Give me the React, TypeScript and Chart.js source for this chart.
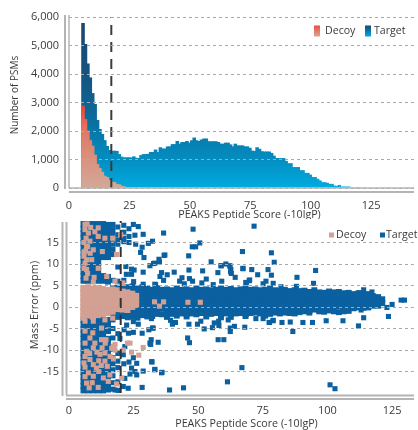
import React, { useEffect, useRef } from "react";
import { Chart, registerables } from "chart.js";

Chart.register(...registerables);

const firstBinScore = 5.8;
const targetHistogram = [
  5790, 5050, 4370, 3880, 3330, 2950, 2385, 2070, 1895, 1680, 1475, 1335, 1300, 1310, 1300, 1190, 1100, 1075, 1075, 1080,
  1070, 1110, 1060, 1050, 1155, 1190, 1190, 1200, 1265, 1265, 1350, 1265, 1430, 1385, 1385, 1460, 1460, 1540, 1540, 1650,
  1555, 1615, 1615, 1650, 1590, 1675, 1770, 1675, 1650, 1700, 1735, 1735, 1640, 1640, 1640, 1640, 1615, 1555, 1555, 1590,
  1590, 1530, 1460, 1555, 1495, 1495, 1495, 1460, 1460, 1410, 1310, 1300, 1430, 1375, 1290, 1280, 1280, 1280, 1230, 1135,
  1050, 1050, 1050, 1050, 950, 870, 870, 735, 735, 735, 625, 625, 530, 530, 470, 385, 385, 325, 265, 205,
  205, 180, 145, 145, 85, 70, 108, 50, 50, 50, 50, 15, 15, 10, 8,
];
const decoyHistogram = [2890, 2420, 2010, 1680, 1485, 1170, 840, 700, 570, 430, 385, 280, 220, 210, 140, 130, 80, 60, 30, 15, 10];
const histogramThreshold = 17.5;
const scatterThreshold = 20;

const histogramYTicks = [0, 1000, 2000, 3000, 4000, 5000, 6000];
const scatterYTicks = [-15, -10, -5, 0, 5, 10, 15];
const scoreTicks = [0, 25, 50, 75, 100, 125];

const targetLeftColumns = [
  [5.6, 19.3, 18.2, 17.1, 16, 14.9, 13.8, 12.7, 11.6, 10.5, 9.4, 8.3, 7.2, 6.1, -3, -4.1, -5.2, -6.3, -7.4, -8.5, -9.6, -10.7, -11.8, -12.9, -14, -15.1, -16.2, -17.3, -18.4, -19.4],
  [7.5, 19.3, 18.2, 17.1, 16, 14.9, 13.8, 12.7, 11.6, 10.5, 9.4, 8.3, 7.2, 6.1, -3, -4.1, -5.2, -6.3, -7.4, -8.5, -9.6, -10.7, -11.8, -12.9, -14, -15.1, -16.2, -17.3, -18.4, -19.4],
  [9.4, 19.3, 18.2, 17.1, 16, 14.9, 13.8, 12.7, 11.6, 10.5, 9.4, 8.3, 7.2, 6.1, -3, -4.1, -5.2, -6.3, -7.4, -8.5, -9.6, -10.7, -11.8, -12.9, -14, -15.1, -16.2, -17.3, -18.4, -19.4],
  [11.3, 19.3, 18.2, 17.1, 16, 14.9, 13.8, 12.7, 11.6, 10.5, 9.4, 8.3, 7.2, 6.1, -3, -4.1, -5.2, -6.3, -7.4, -8.5, -9.6, -10.7, -11.8, -12.9, -14, -15.1, -16.2, -17.3, -18.4, -19.4],
  [13.2, 19.3, 18.2, 17.1, 16, 14.9, 13.8, 12.7, 11.6, 7.2, 6.1, -3, -4.1, -5.2, -6.3, -7.4, -8.5, -9.6, -10.7, -11.8, -12.9, -14, -15.1, -16.2, -17.3, -18.4, -19.4],
  [15.1, 19.1, 18, 17.1, 16, 14.9, 13.8, 12.7, 11.6, 7, 5.9, -3, -4.1, -5.6, -7.4, -8.5, -9.6, -10.7, -11.8, -12.9, -14, -15.1, -16.2, -17.3, -18.4, -19.2],
];

const targetSparseColumns = [
  [17, 19.2, 18, 16.9, 15.8, 14.6, 13.4, 12.2, 6.2, -3, -5, -7.2, -9.8, -11.8, -13.2, -14.6, -16, -17.6, -19.1],
  [18.9, 18.6, 16.8, 15.6, 14.6, 9.3, 6, -6.2, -10.8, -12.6, -14.1, -17.4],
  [21.2, 19, 17.4, 16, 15.2, 6.2, -13.2],
  [23.2, 18.2, 16.4, 15, -12.8],
];

const targetBandColumns = [
  [17, 4.4, 3.2, 2.1, 1, -0.1, -1.2, -2.2],
  [18.9, 4.5, 3.3, 2.2, 1.1, 0, -1.1, -2.3],
  [20.8, 4.3, 3.2, 2.1, 1, -0.1, -1.2, -2.1],
  [22.7, 4.6, 3.4, 2.2, 1, -0.2, -1.3, -2.4],
  [24.6, 4.8, 3.5, 2.3, 1.1, 0, -1.2, -2.2],
  [26.5, 4.3, 3.1, 2, 0.9, -0.2, -1.3, -2.5],
  [28.4, 4.6, 3.4, 2.2, 1, -0.1, -1.2, -1.9],
  [30.3, 4.2, 3.1, 2, 0.9, -0.2, -1.3, -2.2],
  [32.2, 4, 2.9, 1.8, 0.7, -0.4, -1.5, -2.1],
  [34.1, 4.4, 3.2, 2, 0.8, -0.4, -1.6],
  [36, 4, 2.9, 1.8, 0.7, -0.4, -1.7],
  [37.9, 4.1, 3, 1.9, 0.8, -0.3, -1.5, -2.3],
  [39.8, 3.9, 2.8, 1.7, 0.6, -0.5, -1.6],
  [41.7, 4.3, 3.1, 2, 0.9, -0.2, -1.4, -2],
  [43.6, 4, 2.9, 1.8, 0.7, -0.4, -1.5],
  [45.5, 4.1, 3, 1.9, 0.8, -0.3, -1.6, -2.2],
  [47.4, 3.9, 2.8, 1.7, 0.6, -0.5, -1.5],
  [49.3, 4.3, 3.1, 1.9, 0.7, -0.5, -1.7],
  [51.2, 4, 2.9, 1.8, 0.7, -0.4, -1.4],
  [53.1, 4.1, 3, 1.9, 0.8, -0.3, -1.5, -2.2],
  [55, 3.9, 2.8, 1.7, 0.6, -0.5, -1.6],
  [56.9, 4, 2.9, 1.8, 0.7, -0.4, -1.4],
  [58.8, 4.3, 3.1, 1.9, 0.7, -0.5, -1.7, -2.4],
  [60.7, 4, 2.9, 1.8, 0.7, -0.4, -1.5],
  [62.6, 4.2, 3, 1.8, 0.6, -0.6, -1.7, -2.3],
  [64.5, 3.9, 2.8, 1.7, 0.6, -0.5, -1.5],
  [66.4, 4.1, 3, 1.9, 0.8, -0.3, -1.4],
  [68.3, 4.3, 3.1, 1.9, 0.7, -0.5, -1.6, -2.1],
  [70.2, 4, 2.9, 1.8, 0.7, -0.4, -1.4],
  [72.1, 4.1, 3, 1.9, 0.8, -0.3, -1.3],
  [74, 3.9, 2.8, 1.7, 0.6, -0.5, -1.5],
  [75.9, 4, 2.9, 1.8, 0.7, -0.4, -1.4, -2],
  [77.8, 4.2, 3, 1.8, 0.6, -0.6, -1.6],
  [79.7, 3.9, 2.8, 1.7, 0.6, -0.5, -1.3],
  [81.6, 3.8, 2.7, 1.6, 0.5, -0.6, -1.5],
  [83.5, 4, 2.9, 1.8, 0.7, -0.4, -1.3],
  [85.4, 3.7, 2.6, 1.5, 0.4, -0.7, -1.4],
  [87.3, 3.9, 2.8, 1.7, 0.6, -0.5, -1.5],
  [89.2, 3.7, 2.6, 1.5, 0.4, -0.7, -1.2],
  [91.1, 3.8, 2.7, 1.6, 0.5, -0.6, -1],
  [93, 3.5, 2.4, 1.3, 0.2, -0.9, -1.3],
  [94.9, 3.9, 2.7, 1.6, 0.5, -0.6],
  [96.8, 3.4, 2.3, 1.2, 0.1, -1],
  [98.7, 3.3, 2.2, 1.1, 0, -1.1],
  [100.6, 3.6, 2.5, 1.4, 0.3, -0.8],
  [102.5, 3.4, 2.3, 1.2, 0.1, -1],
  [104.4, 3.5, 2.4, 1.3, 0.2, -1.2],
  [106.3, 3.2, 2.1, 1, -0.1, -1],
  [108.2, 3.3, 2.2, 1.1, 0, -0.9],
  [110.1, 3, 1.9, 0.8, -0.3],
  [112, 3.2, 2.1, 1, -0.1],
  [113.9, 2.9, 1.8, 0.7, -0.2],
  [115.8, 3, 1.9, 0.8, -0.1],
  [117.7, 2.5, 1.4, 0.3],
  [119.6, 2.3, 1.2, 0.3],
  [121.2, 1.8, 0.9],
];

const targetOutliers = [
  [71.6, 18.8], [48, 18.1], [36.6, 17.2], [32.3, 15.3], [50.6, 14.9], [47.7, 14], [49, 14], [67.1, 12.9], [78.3, 12.6], [36.8, 12], [46.3, 11.9],
  [35, 10.5], [32.7, 10.1], [31.3, 9.6], [55, 10.5], [58.8, 9.6], [60.7, 10], [62.2, 9.6], [62.6, 8.7], [62.8, 7.8], [64.3, 6.9], [67.3, 8.9],
  [70.7, 8.7], [73, 7.5], [77, 8.7], [79.4, 10.4], [78.3, 7.4], [79, 5.5], [35.8, 8], [35.2, 7.1], [36.6, 6.2], [38, 7.5], [40.7, 8.1], [43.7, 6.8],
  [42.8, 6], [44.6, 5.4], [46.4, 8.6], [46.6, 6.6], [47.8, 6], [51.7, 8.4], [53.1, 6.5], [51.4, 5.6], [57.6, 8], [59.1, 6], [55.8, 5.2], [33.5, 5.2],
  [68.4, 5.7], [69.7, 6.1], [75.1, 5.4], [76.2, 6], [95.4, 8.5], [88.2, 6.9], [94.6, 5.5], [82, 4.7], [88, 4.8], [67.3, 9], [69.9, 6.3], [68.6, 5.7],
  [58.9, 9.6], [62.3, 9.5], [62.5, 8.2], [114, 4], [117.2, 3.5], [112.4, 3.3],
  [31.9, -2.7], [39.3, -3.1], [40, -4], [41.2, -3.6], [46.4, -4], [49.7, -4], [51, -3.3], [52.3, -5.1], [32.3, -4.9], [56.2, -3.7], [55.5, -4.8],
  [57.9, -3.3], [58, -4.3], [62.4, -4.9], [62.4, -5.7], [64, -4.5], [68, -4.7], [72.3, -2.7], [75.1, -2.7], [77.4, -3.6], [79, -3.1], [61.6, -3],
  [45.9, -7.2], [46.6, -8.3], [57.7, -7.6], [59.9, -7.6], [31.8, -7.6], [31.3, -8.4], [34.5, -8.2], [32.1, -12.8], [33.2, -14.6], [36, -15.2],
  [66.9, -14.1], [61.3, -17.4], [38.9, -19.3], [44.3, -18.8], [125, 0.6], [123, -0.1], [123.6, -2.2], [114, -2.5], [113, -0.7], [112, -4.4],
  [106, -3.2], [99.5, -3.2], [94.2, -3.6], [90.5, -3.6], [85.6, -3.5], [82.4, -3.6], [86.6, -5.7], [78.9, -3.2], [77.6, -3.6], [68.6, -1.7],
  [128.5, 1.6], [129.8, 1.6], [101, -18.1], [102.9, -19],
  [24.9, 19.2], [26.8, 18.7], [25.5, 16.7], [28.7, 16.9], [30.7, 14.8], [25.8, 14.6], [28.3, 13.9], [27.7, 12.7], [29, 11.5], [37.1, 12.1], [34.8, 11.1],
  [33.2, 10.2], [22, 9.4], [24.2, 8.8], [25.2, 8.6], [28.7, 8.1], [24.2, 7.6], [22.2, 7.6], [25, 5.9], [28.7, 5.3], [33.2, 5.3], [24.9, -3.4], [26.8, -4],
  [22.3, -4.2], [21.3, -5.3], [23, -6.1], [24.9, -5.9], [28.3, -6.1], [30.9, -5.3], [32.6, -4.9], [31.6, -8.7], [19.7, -7.3], [21.6, -9.2], [21, -11.1],
  [24.9, -11.8], [32, -12.7], [26.2, -13.1], [24.2, -14.2], [25.5, -15], [28.7, -14.9], [33.2, -14.5], [35.8, -15.3], [23.6, -15.6], [21.6, -16.6],
  [26.2, -15.8], [22.9, -18.9], [21, -18.5], [17.8, -19.3], [28.3, -18.7], [19, -19.4],
];

const decoyBandColumns = [
  [5.5, 4.4, 3.3, 2.2, 1.1, 0, -1.1, -2.2],
  [7.4, 4.6, 3.5, 2.4, 1.3, 0.2, -0.9, -2],
  [9.3, 4.3, 3.2, 2.1, 1, -0.1, -1.2, -2.3],
  [11.2, 4.4, 3.3, 2.2, 1.1, 0, -1.1, -1.9],
  [13.1, 4.2, 3.1, 2, 0.9, -0.2, -1.3, -1.7],
  [15, 4, 2.9, 1.8, 0.7, -0.4, -1.4],
  [16.9, 4.1, 3, 1.9, 0.8, -0.3, -1.1],
  [18.8, 3.9, 2.8, 1.7, 0.6, -0.5],
  [20.7, 3.6, 2.5, 1.4, 0.3, -0.6],
  [22.6, 3.4, 2.3, 1.2, 0.1, -0.7],
  [24.5, 3.1, 2, 1, 0],
  [26, 2.6, 1.6, 0.6],
];

const decoyOutliers = [
  [6.2, 19.2], [6.2, 18], [7.5, 17.2], [11.3, 18.4], [6.6, 16], [8.1, 15.3], [11.3, 16.4], [13.9, 16], [16.9, 16], [20, 16.8], [6.8, 14.1], [9.4, 13.3],
  [12.9, 12.9], [18.4, 12.2], [6.8, 11], [8.8, 11], [6.2, 10.2], [11.3, 9], [6.8, 8.7], [6.6, 6.7], [9.7, 6.9], [9.4, 5.8], [14.6, 7.1], [17.8, 6], [20.8, 5.6],
  [9.2, -6], [12.6, -7.6], [14.3, -7.6], [6.2, -3.3], [9.4, -3.3], [13.9, -3], [16.9, -2.6], [5.5, -2.6], [6.8, -10.3], [9.4, -9.5], [17.1, -9.1], [17.8, -10],
  [23.6, -8.4], [22.6, -8.4], [21, -10], [24.2, -10.5], [27, -11.2], [28.7, -9.4], [6.2, -11.5], [8.1, -12.2], [12, -11], [13.9, -10.7], [15.9, -11.5], [9.4, -13.4],
  [13.9, -12.6], [7.5, -15.3], [9.4, -16.1], [13.3, -16.5], [15.2, -17.3], [6.8, -17.7], [11.3, -18.7], [20.4, -16.5], [18.4, -17.9], [8.1, -7.2], [14, -8.4], [17.8, -8.7],
  [6.2, -8.4], [10, -8.4], [6.2, -5.6], [12.6, -4.9], [33.1, 1.2], [36.6, 1.2], [35, 0.2], [50.8, 1.1], [46, 1.1],
  [5.8, 15], [5.8, 12.8], [7.2, 14], [8.4, 18.5], [5.8, 9], [8.2, 12.5], [7, 19.3], [10, 17.5], [7.2, 7.8], [5.8, 11.8], [6.4, 13],
  [10.8, -10.5], [11.5, -12.5], [8, -10.8], [12.8, -9.5], [14.8, -13.8], [16.5, -9.6], [11.5, -15], [6.2, -14], [6.2, -16.2], [7.8, -18.8], [10.6, -14.2],
  [9, -17.6], [15.8, -15.8], [17.2, -12], [5.8, -13], [12.5, -13.6],
];

const FONT = "'Open Sans', sans-serif";
const TEXT = "#3a3a3a";
const GRID = "#a9a9a9";
const AXIS = "#b4b4b4";
const TARGET_POINT = "#0b60a0";
const DECOY_POINT = "#d3a193";
const BOTTOM_CANVAS_TOP = 204;

const columnsToPoints = (columns: number[][]) =>
  columns.flatMap(([x, ...ys]) => ys.map((y) => ({ x, y })));
const pairsToPoints = (pairs: number[][]) => pairs.map(([x, y]) => ({ x, y }));

function gradient(chart: any, topValue: number, stops: [number, string][]) {
  const y = chart.scales.y;
  const g = chart.ctx.createLinearGradient(0, y.getPixelForValue(topValue), 0, y.getPixelForValue(0));
  stops.forEach(([p, c]) => g.addColorStop(p, c));
  return g;
}
const targetFill = (ctx: any) =>
  ctx.chart.chartArea
    ? gradient(ctx.chart, 6000, [[0, "#1d4570"], [0.33, "#155380"], [0.5, "#0e6291"], [0.67, "#0877a8"], [0.83, "#048dc0"], [1, "#00abe0"]])
    : "#0877a8";
const decoyFill = (ctx: any) =>
  ctx.chart.chartArea
    ? gradient(ctx.chart, 2900, [[0, "#ec4435"], [0.3, "#e27763"], [0.65, "#d9927f"], [1, "#d3a898"]])
    : "#e27763";

const framePlugin = {
  id: "frame",
  afterDraw(chart: any, _a: any, opts: any) {
    const { ctx } = chart;
    ctx.save();
    ctx.strokeStyle = AXIS;
    opts.vertical.forEach(([x, y0, y1, w]: number[]) => {
      ctx.lineWidth = w;
      ctx.beginPath();
      ctx.moveTo(x, y0);
      ctx.lineTo(x, y1);
      ctx.stroke();
    });
    opts.horizontal.forEach(([y, x0, x1, w]: number[]) => {
      ctx.lineWidth = w;
      ctx.beginPath();
      ctx.moveTo(x0, y);
      ctx.lineTo(x1, y);
      ctx.stroke();
    });
    ctx.restore();
  },
};

const axisTitlePlugin = {
  id: "axisTitles",
  afterDraw(chart: any, _a: any, opts: any) {
    const { ctx } = chart;
    ctx.save();
    ctx.fillStyle = TEXT;
    ctx.textAlign = "center";
    ctx.textBaseline = "middle";
    ctx.font = `${opts.xSize}px ${FONT}`;
    ctx.fillText(opts.xText, opts.xAt[0], opts.xAt[1]);
    ctx.translate(opts.yAt[0], opts.yAt[1]);
    ctx.rotate(-Math.PI / 2);
    ctx.font = `${opts.ySize}px ${FONT}`;
    ctx.fillText(opts.yText, 0, 0);
    ctx.restore();
  },
};

const legendPlugin = {
  id: "floatLegend",
  afterDraw(chart: any, _a: any, opts: any) {
    const { ctx } = chart;
    ctx.save();
    ctx.font = `10.6px ${FONT}`;
    ctx.textBaseline = "middle";
    opts.items.forEach((it: any) => {
      const { label, x, textX, h, w, stops } = it;
      const top = opts.y - h / 2;
      if (stops.length > 1) {
        const g = ctx.createLinearGradient(0, top, 0, top + h);
        stops.forEach((c: string, i: number) => g.addColorStop(i / (stops.length - 1), c));
        ctx.fillStyle = g;
      } else ctx.fillStyle = stops[0];
      ctx.fillRect(x, top, w, h);
      ctx.fillStyle = TEXT;
      ctx.fillText(label, textX, opts.y);
    });
    ctx.restore();
  },
};

const tickFont = { family: FONT, size: 11 };

function xAxis(max: number, height: number, tickPad: number) {
  return {
    type: "linear",
    min: 0,
    max,
    offset: false,
    afterFit: (s: any) => { s.height = height; },
    afterBuildTicks: (s: any) => { s.ticks = scoreTicks.map((value) => ({ value })); },
    grid: { display: false, offset: false, drawTicks: false },
    border: { display: false },
    ticks: { font: tickFont, color: TEXT, padding: tickPad, maxRotation: 0, autoSkip: false },
  };
}

function yAxis(min: number, max: number, ticks: number[], fmt: (v: number) => string) {
  return {
    min,
    max,
    afterFit: (s: any) => { s.width = 69; },
    afterBuildTicks: (s: any) => { s.ticks = ticks.map((value) => ({ value })); },
    grid: { color: GRID, lineWidth: 1, drawTicks: false, z: 1 },
    border: { display: false, dash: [3, 3] },
    ticks: { font: tickFont, color: TEXT, padding: 10, callback: (v: any) => fmt(Number(v)) },
  };
}

const barStyle = {
  grouped: false, barThickness: 3.6,
  borderWidth: 0, borderColor: "transparent", inflateAmount: 0,
};
const pointStyleFor = (color: string, radius: number) => ({
  clip: false, pointStyle: "rect", pointRadius: radius,
  pointBorderWidth: 0, pointBorderColor: "transparent", pointBackgroundColor: color,
  borderWidth: 0, borderColor: "transparent", backgroundColor: color,
});

export default function App() {
  const topRef = useRef<HTMLCanvasElement>(null);
  const bottomRef = useRef<HTMLCanvasElement>(null);

  useEffect(() => {
    const histogram = new Chart(topRef.current as any, {
      type: "bar",
      data: {
        datasets: [
          {
            type: "line", label: "Threshold", order: 0,
            data: [{ x: histogramThreshold, y: 0 }, { x: histogramThreshold, y: 6000 }],
            borderColor: "#3c3c3c", borderWidth: 2, borderDash: [10, 7], pointRadius: 0,
          },
          {
            label: "Decoy", order: 1, ...barStyle,
            data: decoyHistogram.map((y, i) => ({ x: firstBinScore + i, y })),
            backgroundColor: decoyFill,
          },
          {
            label: "Target", order: 2, ...barStyle,
            data: targetHistogram.map((y, i) => ({ x: firstBinScore + i, y })),
            backgroundColor: targetFill,
          },
        ],
      } as any,
      options: {
        animation: false, responsive: false,
        layout: { padding: { top: 17, right: 4, left: 0, bottom: 0 } },
        scales: {
          x: xAxis(142.7, 31, 11) as any,
          y: yAxis(0, 6000, histogramYTicks, (v) => v.toLocaleString("en-US")) as any,
        },
        plugins: {
          legend: { display: false }, tooltip: { enabled: false },
          frame: {
            vertical: [[65, 15, 189, 2], [69, 15, 188, 1.5]],
            horizontal: [[188, 69, 414, 1.5], [192, 69, 414, 2]],
          },
          axisTitles: {
            xText: "PEAKS Peptide Score (-10lgP)", xSize: 10.7, xAt: [249.5, 215],
            yText: "Number of PSMs", ySize: 10, yAt: [15, 95],
          },
          floatLegend: {
            y: 31,
            items: [
              { label: "Decoy", x: 314, textX: 325, w: 6, h: 11, stops: ["#ea4f40", "#d9a594"] },
              { label: "Target", x: 365, textX: 374, w: 6, h: 11, stops: ["#1d4570", "#00abe0"] },
            ],
          },
        } as any,
      },
      plugins: [framePlugin, axisTitlePlugin, legendPlugin],
    } as any);

    const scatter = new Chart(bottomRef.current as any, {
      type: "scatter",
      data: {
        datasets: [
          {
            label: "Threshold", order: 0, showLine: true,
            data: [{ x: scatterThreshold, y: -20 }, { x: scatterThreshold, y: 20 }],
            borderColor: "#333333", borderWidth: 2, borderDash: [10, 7], pointRadius: 0, clip: false,
          },
          {
            label: "Decoy", order: 1, ...pointStyleFor(DECOY_POINT, 3.6),
            data: pairsToPoints(decoyOutliers),
          },
          {
            label: "Decoy core", order: 2, ...pointStyleFor(DECOY_POINT, 4.2),
            data: columnsToPoints(decoyBandColumns),
          },
          {
            label: "Target", order: 3, ...pointStyleFor(TARGET_POINT, 3.6),
            data: [...columnsToPoints(targetSparseColumns), ...pairsToPoints(targetOutliers)],
          },
          {
            label: "Target core", order: 4, ...pointStyleFor(TARGET_POINT, 4.2),
            data: [...columnsToPoints(targetLeftColumns), ...columnsToPoints(targetBandColumns)],
          },
        ],
      } as any,
      options: {
        animation: false, responsive: false,
        layout: { padding: { top: 17, right: 4, left: 0, bottom: 0 } },
        scales: {
          x: xAxis(133.4, 37, 11) as any,
          y: yAxis(-20, 20, scatterYTicks, (v) => String(v)) as any,
        },
        plugins: {
          legend: { display: false }, tooltip: { enabled: false },
          frame: {
            vertical: [[62.5, 222 - BOTTOM_CANVAS_TOP, 396 - BOTTOM_CANVAS_TOP, 2], [66.5, 222 - BOTTOM_CANVAS_TOP, 395 - BOTTOM_CANVAS_TOP, 2]],
            horizontal: [[395.5 - BOTTOM_CANVAS_TOP, 66, 414, 2], [399 - BOTTOM_CANVAS_TOP, 66, 414, 2]],
          },
          axisTitles: {
            xText: "PEAKS Peptide Score (-10lgP)", xSize: 10.7, xAt: [246.5, 424 - BOTTOM_CANVAS_TOP],
            yText: "Mass Error (ppm)", ySize: 11, yAt: [35, 305 - BOTTOM_CANVAS_TOP],
          },
          floatLegend: {
            y: 235 - BOTTOM_CANVAS_TOP,
            items: [
              { label: "Decoy", x: 329, textX: 336, w: 5, h: 5, stops: [DECOY_POINT] },
              { label: "Target", x: 380, textX: 386, w: 5, h: 5, stops: [TARGET_POINT] },
            ],
          },
        } as any,
      },
      plugins: [framePlugin, axisTitlePlugin, legendPlugin],
    } as any);

    return () => {
      histogram.destroy();
      scatter.destroy();
    };
  }, []);

  return (
    <>
      <canvas ref={topRef} width={418} height={219} style={{ position: "absolute", left: 0, top: 0, width: 418, height: 219, filter: "blur(0.3px)" }} />
      <canvas ref={bottomRef} width={418} height={226} style={{ position: "absolute", left: 0, top: BOTTOM_CANVAS_TOP, width: 418, height: 226, filter: "blur(0.3px)" }} />
    </>
  );
}
